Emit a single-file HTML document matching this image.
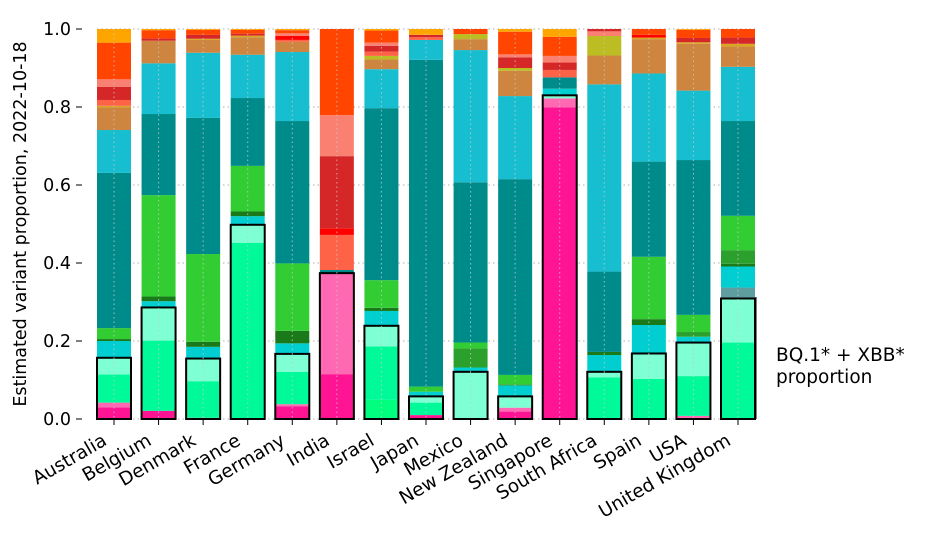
<!DOCTYPE html>
<html><head><meta charset="utf-8"><style>
body{margin:0;background:#fff;}
svg{font-family:"DejaVu Sans","Liberation Sans",sans-serif;}
</style></head><body>
<svg id="chart" width="934" height="545" viewBox="0 0 934 545"></svg>
<script>
const categories=["Australia","Belgium","Denmark","France","Germany","India","Israel","Japan","Mexico","New Zealand","Singapore","South Africa","Spain","USA","United Kingdom"];
const C={dp:"#ff1493",hp:"#ff69b4",sg:"#00ff7f",msg:"#00fa9a",aq:"#7fffd4",dt:"#00ced1",dg:"#1a7a1a",lg:"#32cd32",fg:"#2ca02c",tl:"#008b8b",cy:"#17becf",pe:"#cd853f",ol:"#bcbd22",to:"#ff6347",cr:"#d62728",rd:"#ff0000",sa:"#fa8072",or:"#ff4500",og:"#ffa500",cb:"#5f9ea0",go:"#daa520"};
// each bar: [colour key, cumulative top proportion]
const australia=[["dp",.030],["hp",.042],["msg",.114],["aq",.157],["dt",.200],["dg",.205],["lg",.233],["tl",.631],["cy",.741],["pe",.799],["go",.803],["to",.818],["cr",.852],["sa",.871],["or",.965],["og",1]];
const belgium=[["dp",.021],["msg",.201],["aq",.286],["dt",.302],["dg",.314],["lg",.574],["tl",.782],["cy",.912],["pe",.970],["cr",.976],["or",.997],["og",1]];
const denmark=[["dp",.003],["msg",.097],["aq",.155],["dt",.185],["dg",.198],["lg",.423],["tl",.772],["cy",.939],["pe",.972],["go",.975],["cr",.985],["or",.998],["og",1]];
const france=[["msg",.452],["aq",.498],["dt",.520],["dg",.532],["lg",.649],["tl",.823],["cy",.934],["pe",.979],["go",.983],["cr",.988],["or",.998],["og",1]];
const germany=[["dp",.032],["hp",.038],["msg",.121],["aq",.167],["dt",.194],["dg",.226],["lg",.399],["tl",.764],["cy",.941],["pe",.967],["to",.972],["rd",.982],["sa",.989],["or",.997],["og",1]];
const india=[["dp",.115],["hp",.374],["tl",.382],["to",.472],["rd",.489],["cr",.674],["sa",.779],["or",1]];
const israel=[["sg",.049],["msg",.186],["aq",.239],["dt",.277],["dg",.285],["lg",.356],["tl",.797],["cy",.897],["pe",.922],["ol",.931],["to",.942],["cr",.957],["sa",.965],["or",.996],["og",1]];
const japan=[["dp",.010],["msg",.042],["aq",.058],["dt",.070],["lg",.083],["tl",.921],["cy",.972],["to",.979],["cr",.985],["og",1]];
const mexico=[["aq",.121],["dt",.132],["fg",.181],["lg",.196],["tl",.607],["cy",.946],["pe",.974],["ol",.987],["or",1]];
const newZealand=[["dp",.019],["hp",.029],["aq",.058],["dt",.086],["fg",.089],["lg",.113],["tl",.615],["cy",.828],["pe",.893],["ol",.900],["cr",.927],["sa",.935],["or",.993],["og",1]];
const singapore=[["dp",.799],["hp",.822],["aq",.830],["dt",.847],["tl",.876],["to",.895],["cr",.914],["sa",.931],["or",.980],["og",1]];
const southAfrica=[["msg",.107],["aq",.121],["dt",.164],["dg",.172],["tl",.378],["cy",.858],["pe",.932],["ol",.982],["sa",.994],["cr",1]];
const spain=[["msg",.103],["aq",.168],["dt",.241],["dg",.256],["lg",.416],["tl",.660],["cy",.886],["pe",.974],["go",.978],["rd",.985],["or",1]];
const usa=[["hp",.008],["msg",.110],["aq",.196],["dt",.211],["fg",.223],["lg",.267],["tl",.664],["cy",.842],["pe",.962],["go",.966],["cr",.977],["or",.998],["og",1]];
const uk=[["msg",.196],["aq",.309],["cb",.337],["dt",.391],["dg",.398],["fg",.433],["lg",.521],["tl",.764],["cy",.903],["pe",.955],["go",.962],["cr",.978],["or",1]];
const series=[australia,belgium,denmark,france,germany,india,israel,japan,mexico,newZealand,singapore,southAfrica,spain,usa,uk];
const boxValues=[.157,.286,.155,.498,.167,.374,.239,.058,.121,.058,.830,.121,.168,.196,.309];
const yTicks=[0,0.2,0.4,0.6,0.8,1.0];
const yTickLabels=["0.0","0.2","0.4","0.6","0.8","1.0"];

const NS="http://www.w3.org/2000/svg";
const svg=document.getElementById("chart");
const X0=97,X1=755,Y0=419,Y1=29,bw=34;
const step=(X1-X0-bw)/(categories.length-1);
const xc=i=>X0+bw/2+i*step;
const y=v=>Y0-(Y0-Y1)*v;
function mk(tag,attrs,parent){const e=document.createElementNS(NS,tag);for(const k in attrs)e.setAttribute(k,attrs[k]);(parent||svg).appendChild(e);return e;}

const grid=mk("g",{});


yTicks.forEach((t,i)=>{
  const l=mk("line",{x1:X0,x2:X1,y1:y(t),y2:y(t),stroke:"#b0b0b0","stroke-width":1,"stroke-dasharray":"1.5,3"},grid);
  
  
  const tx=mk("text",{x:71,y:y(t)+6,"text-anchor":"end","font-size":17.5,fill:"#000"});
  tx.textContent=yTickLabels[i];
  
  
  const tk=mk("line",{x1:76,x2:82,y1:y(t),y2:y(t),stroke:"#000"});
  
  
});

series.forEach((bar,i)=>{
  const g=mk("g",{});
  
  
  let prev=0;
  bar.forEach(([k,top])=>{
    const r=mk("rect",{x:xc(i)-bw/2,y:y(top),width:bw,height:Math.max(0,y(prev)-y(top)),fill:C[k]},g);
    
    
    prev=top;
  });
  const b=mk("rect",{x:xc(i)-bw/2,y:y(boxValues[i]),width:bw,height:y(0)-y(boxValues[i]),fill:"none",stroke:"#000","stroke-width":2},g);
  
  
  const vl=mk("line",{x1:xc(i),x2:xc(i),y1:Y1,y2:Y0,stroke:"rgba(200,200,200,0.8)","stroke-width":1,"stroke-dasharray":"1.5,3"},g);
  
  
  const tk=mk("line",{x1:xc(i),x2:xc(i),y1:Y0,y2:Y0+6,stroke:"#000"});
  
  
  const ax=xc(i)-6, ay=Y0+25;
  const tx=mk("text",{x:ax,y:ay,"text-anchor":"end","font-size":18.5,transform:`rotate(-30 ${ax} ${ay})`});
  tx.textContent=categories[i];
  
  
});

const yl=mk("text",{x:26,y:224,"text-anchor":"middle","font-size":17.5,transform:"rotate(-90 26 224)"});
yl.textContent="Estimated variant proportion, 2022-10-18";


const br=mk("line",{x1:756,x2:756,y1:297,y2:419,stroke:"#000"});


const a1=mk("text",{x:776,y:361,"font-size":18.5});a1.textContent="BQ.1* + XBB*";


const a2=mk("text",{x:776,y:383,"font-size":18.5});a2.textContent="proportion";


</script>
</body></html>
